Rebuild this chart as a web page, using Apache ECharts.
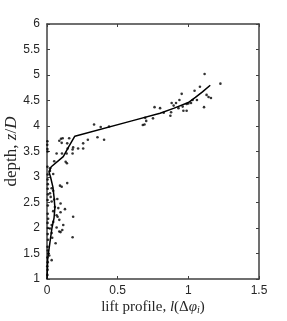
<!DOCTYPE html>
<html><head><meta charset="utf-8">
<script src="https://cdn.jsdelivr.net/npm/echarts@6/dist/echarts.min.js"></script>
<style>html,body{margin:0;padding:0;background:#fff}#c{width:287px;height:321px}</style>
</head><body><div id="c"></div>
<script>
const xTickLabels = ['0', '0.5', '1', '1.5'];
const yTickLabels = ['1', '1.5', '2', '2.5', '3', '3.5', '4', '4.5', '5', '5.5', '6'];

const lineX = [0.0, 0.003, 0.005, 0.015, 0.025, 0.035, 0.05, 0.056, 0.05, 0.042, 0.025, 0.014, 0.03, 0.115, 0.155, 0.197, 0.6, 0.8, 0.9, 1.0, 1.05, 1.1, 1.155];
const lineY = [1.0, 1.2, 1.4, 1.6, 1.8, 2.0, 2.2, 2.4, 2.6, 2.8, 3.0, 3.1, 3.2, 3.4, 3.6, 3.8, 4.1, 4.25, 4.35, 4.46, 4.56, 4.67, 4.80];

const dotX = [
  0.678, 0.690, 0.702, 0.695, 0.750, 0.761, 0.800, 0.826, 0.873, 0.878, 0.882, 0.896, 0.913, 0.937, 0.953,
  0.930, 0.960, 0.965, 0.988, 0.988, 1.000, 1.019, 1.030, 1.044, 1.061, 1.082, 1.115, 1.111, 1.129, 1.143,
  1.160, 1.227,
  0.333, 0.380, 0.439, 0.357, 0.404, 0.289, 0.256, 0.220, 0.256, 0.185, 0.157, 0.099, 0.111, 0.087, 0.104,
  0.143, 0.181, 0.146, 0.068, 0.106, 0.139, 0.181, 0.051, 0.132, 0.141, 0.021, 0.002,
  0.021, 0.044, 0.143, 0.092, 0.104, 0.033, 0.044, 0.021, 0.026, 0.051, 0.033, 0.073, 0.096, 0.080, 0.056,
  0.044, 0.127, 0.096, 0.068, 0.075, 0.185, 0.087, 0.044, 0.115, 0.108, 0.033, 0.021, 0.087, 0.096, 0.068,
  0.181, 0.033, 0.037, 0.061, 0.009, 0.016, 0.033,
  0.003, 0.004, 0.002, 0.005, 0.003, 0.006, 0.004, 0.007, 0.005, 0.006, 0.004, 0.008, 0.005, 0.006, 0.004,
  0.007, 0.005, 0.006, 0.004, 0.005, 0.003, 0.004, 0.003, 0.003
];
const dotY = [
  4.02, 4.03, 4.10, 4.16, 4.15, 4.37, 4.35, 4.26, 4.20, 4.27, 4.45, 4.40, 4.45, 4.51, 4.63,
  4.35, 4.38, 4.30, 4.30, 4.43, 4.44, 4.45, 4.51, 4.69, 4.51, 4.77, 5.02, 4.37, 4.61, 4.57,
  4.55, 4.83,
  4.03, 3.98, 3.99, 3.78, 3.73, 3.73, 3.66, 3.56, 3.56, 3.58, 3.76, 3.75, 3.76, 3.71, 3.67,
  3.66, 3.54, 3.56, 3.46, 3.46, 3.46, 3.46, 3.31, 3.30, 3.27, 3.17, 3.63,
  3.12, 3.06, 2.88, 2.83, 2.81, 2.78, 2.73, 2.68, 2.61, 2.56, 2.52, 2.57, 2.48, 2.39, 2.41,
  2.33, 2.37, 2.31, 2.25, 2.22, 2.22, 2.16, 2.12, 2.06, 1.96, 2.06, 1.99, 1.93, 1.92, 2.01,
  1.82, 1.90, 1.81, 1.70, 1.50, 1.46, 1.37,
  1.08, 1.18, 1.25, 1.33, 1.42, 1.56, 1.63, 1.77, 1.88, 2.00, 2.10, 2.18, 2.28, 2.44, 2.55,
  2.66, 2.77, 2.86, 2.95, 3.05, 3.20, 3.50, 3.55, 3.70
];

const axisColor = '#404040';
const lineData = lineX.map((x, i) => [x, lineY[i]]);
const dotData = dotX.map((x, i) => [x, dotY[i]]);

function fmt(labels, min, step) {
  return v => { const i = Math.round((v - min) / step); return labels[i] !== undefined ? labels[i] : ''; };
}

const serif = 'Liberation Serif';
const chart = echarts.init(document.getElementById('c'), null, {renderer: 'canvas'});
const common = {
  axisLine: {show: true, onZero: false, lineStyle: {color: axisColor, width: 1.5}},
  axisTick: {show: true, inside: true, length: 3, lineStyle: {color: axisColor, width: 1}},
  splitLine: {show: false}
};
chart.setOption({
  animation: false,
  backgroundColor: '#fff',
  grid: {left: 47, right: 28, top: 24, bottom: 42, containLabel: false, outerBoundsMode: 'none'},
  xAxis: [
    Object.assign({
      type: 'value', min: 0, max: 1.5, interval: 0.5, position: 'bottom',
      axisLabel: {color: '#262626', fontSize: 12, fontFamily: 'Liberation Sans', margin: 6,
        formatter: fmt(xTickLabels, 0, 0.5)},
      name: '{n|lift profile, }{i|l}{n|(Δ}{i|φ}{s|i}{n|)}',
      nameLocation: 'middle', nameGap: 20, nameMoveOverlap: false,
      nameTextStyle: {color: '#262626', rich: {
        n: {fontFamily: serif, fontSize: 15, color: '#262626'},
        i: {fontFamily: serif, fontSize: 15, fontStyle: 'italic', color: '#262626'},
        s: {fontFamily: serif, fontSize: 10, fontStyle: 'italic', color: '#262626', padding: [6, 0, 0, 0]}
      }}
    }, common),
    Object.assign({
      type: 'value', min: 0, max: 1.5, interval: 0.5, position: 'top',
      axisLabel: {show: false}
    }, common)
  ],
  yAxis: [
    Object.assign({
      type: 'value', min: 1, max: 6, interval: 0.5, position: 'left',
      axisLabel: {color: '#262626', fontSize: 12, fontFamily: 'Liberation Sans', margin: 7,
        formatter: fmt(yTickLabels, 1, 0.5)},
      name: '{n|depth, }{i|z}{n|/}{i|D}',
      nameLocation: 'middle', nameGap: 27, nameRotate: 90, nameMoveOverlap: false,
      nameTextStyle: {color: '#262626', rich: {
        n: {fontFamily: serif, fontSize: 17, color: '#262626'},
        i: {fontFamily: serif, fontSize: 17, fontStyle: 'italic', color: '#262626'}
      }}
    }, common),
    Object.assign({
      type: 'value', min: 1, max: 6, interval: 0.5, position: 'right',
      axisLabel: {show: false}
    }, common)
  ],
  series: [
    {
      type: 'scatter', xAxisIndex: 0, yAxisIndex: 0, data: dotData,
      symbol: 'circle', symbolSize: 2.6, itemStyle: {color: '#000'}, z: 3
    },
    {
      type: 'line', xAxisIndex: 0, yAxisIndex: 0, data: lineData,
      symbol: 'none', lineStyle: {color: '#000', width: 1.5}, z: 4
    }
  ]
});
</script>
</body></html>
